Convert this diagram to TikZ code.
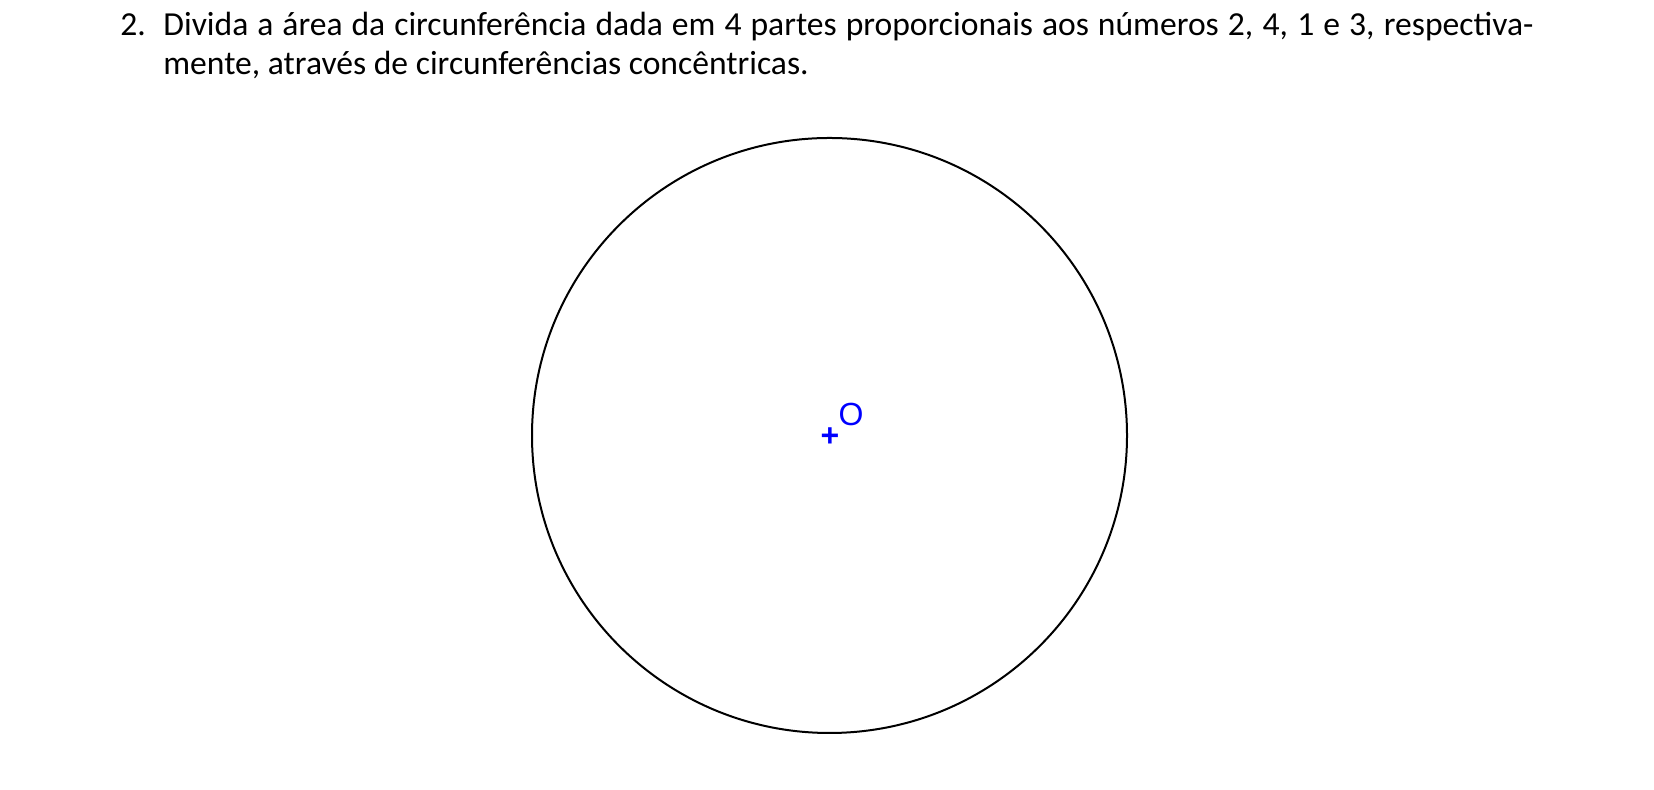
\documentclass[tikz,border=0pt]{standalone}
\usepackage{fontspec}
\setmainfont{Carlito}
\newfontfamily\labelfont{Liberation Sans}
\begin{document}
\begin{tikzpicture}[x=0.5pt,y=0.5pt]
\useasboundingbox[fill=white] (0,0) rectangle (1654,790);
\node[anchor=base west, inner sep=0, font=\fontsize{16.8}{19.5}\selectfont] (num) at (120,754){2.};
\node[anchor=base west, inner sep=0, font=\fontsize{16.8}{19.5}\selectfont] (line1) at (163,754){\makebox[685pt][s]{Divida a área da circunferência dada em 4 partes proporcionais aos números 2, 4, 1 e 3, respectiva-}};
\node[anchor=base west, inner sep=0, font=\fontsize{16.8}{19.5}\selectfont] (line2) at (163,715){mente, através de circunferências concêntricas.};
\node[inner sep=0, blue, font=\labelfont\bfseries\fontsize{16}{16}\selectfont] (ctr) at (830,353){+};
\node[inner sep=0, blue, font=\labelfont\fontsize{16}{16}\selectfont] (lblO) at (851,376){O};
\draw[line width=1pt] (829.5,354.5) circle[radius=148.75pt];
\end{tikzpicture}
\end{document}
